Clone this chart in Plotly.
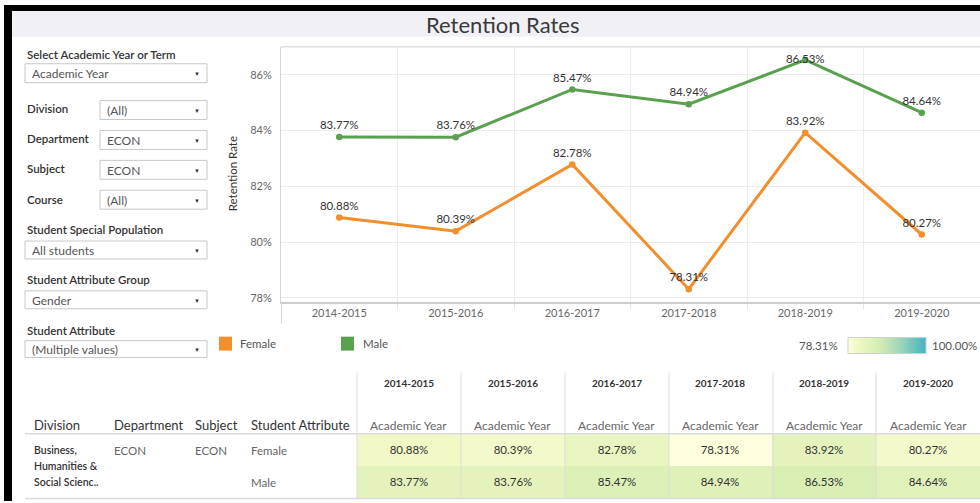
import plotly.graph_objects as go

# ---------------- data ----------------
years = ["2014-2015", "2015-2016", "2016-2017", "2017-2018", "2018-2019", "2019-2020"]
female = [80.88, 80.39, 82.78, 78.31, 83.92, 80.27]
male = [83.77, 83.76, 85.47, 84.94, 86.53, 84.64]
series_names = ["Female", "Male"]
y_tick_vals = [78, 80, 82, 84, 86]
y_tick_text = ["78%", "80%", "82%", "84%", "86%"]
color_max = 100.0

filter_labels = ["Select Academic Year or Term", "Division", "Department", "Subject", "Course",
                 "Student Special Population", "Student Attribute Group", "Student Attribute"]
filter_values = ["Academic Year", "(All)", "ECON", "ECON", "(All)",
                 "All students", "Gender", "(Multiple values)"]

table_headers = ["Division", "Department", "Subject", "Student Attribute"]
division_lines = ["Business,", "Humanities &", "Social Scienc.."]
department = "ECON"
subject = "ECON"
period_label = "Academic Year"

# ---------------- helpers ----------------
W, H = 980, 503
FONT = "Lato, 'Open Sans', sans-serif"
GREEN = "#59a14f"
ORANGE = "#f28e2b"


def X(px):
    return px / W


def Y(py):
    return 1 - py / H


annotations = []
shapes = []


def txt(x, y, s, size=11, color="#333333", anchor="left", weight="normal", xref="paper"):
    annotations.append(dict(
        x=x if xref != "paper" else X(x), y=Y(y), xref=xref, yref="paper", text=s,
        showarrow=False, xanchor=anchor, yanchor="middle",
        font=dict(size=size, color=color, family=FONT, weight=weight)))


def rect(x0, y0, x1, y1, fill, line=None, lw=0):
    shapes.append(dict(type="rect", xref="paper", yref="paper",
                       x0=X(x0), x1=X(x1), y0=Y(y1), y1=Y(y0),
                       fillcolor=fill, line=dict(color=line or fill, width=lw), layer="below"))


def hline(x0, x1, y, color="#dddddd", w=1):
    shapes.append(dict(type="line", xref="paper", yref="paper", x0=X(x0), x1=X(x1),
                       y0=Y(y), y1=Y(y), line=dict(color=color, width=w)))


def vline(x, y0, y1, color="#dddddd", w=1):
    shapes.append(dict(type="line", xref="paper", yref="paper", x0=X(x), x1=X(x),
                       y0=Y(y0), y1=Y(y1), line=dict(color=color, width=w)))


fig = go.Figure()

# ---------------- line chart ----------------
female_pos = ["top center"] * len(female)
male_pos = ["top center"] * len(male)
male_pos[male.index(max(male))] = "middle center"

for name, vals, col, pos in [("Male", male, GREEN, male_pos), ("Female", female, ORANGE, female_pos)]:
    fig.add_trace(go.Scatter(
        x=years, y=vals, name=name, mode="lines+markers+text",
        line=dict(color=col, width=3), marker=dict(color=col, size=6.5),
        text=[f"{v:.2f}%" for v in vals], textposition=pos,
        textfont=dict(size=11.5, color="#333333", family=FONT),
        cliponaxis=False, xaxis="x", yaxis="y", hoverinfo="skip"))

# ---------------- heat table ----------------
all_vals = female + male
zmin = min(all_vals)
fig.add_trace(go.Heatmap(
    z=[female, male], x=years, y=series_names, xaxis="x2", yaxis="y2",
    zmin=zmin, zmax=color_max,
    colorscale=[[0, "#fdfedc"], [0.12, "#f1f8c6"], [0.38, "#d8eeb3"], [0.65, "#a2d8b9"], [1, "#42b4c3"]],
    texttemplate="%{z:.2f}%", textfont=dict(size=11.5, color="#333333", family=FONT),
    hoverinfo="skip",
    colorbar=dict(orientation="h", x=X(886.5), xanchor="center", y=Y(347), yanchor="middle",
                  len=78, lenmode="pixels", thickness=16, thicknessmode="pixels",
                  outlinewidth=1, outlinecolor="#cfcfcf", showticklabels=False, ticks="",
                  xpad=0, ypad=0, borderwidth=0)))

# ---------------- frame ----------------
rect(4, 5, 12, 503, "black")
rect(4, 5, 980, 11, "black")
rect(12, 11, 980, 37, "#f0f0f5")
txt(503, 25, "Retention Rates", size=22, color="#3a3a3a", anchor="center")

# ---------------- filters ----------------
label_y = [55, 109, 139, 169, 200, 230, 281, 332]
box_y = [(64, 83), (101, 120), (131, 150), (161, 180), (191, 210), (242, 260), (292, 310), (342, 359)]
box_x = [(25, 207), (100, 207), (100, 207), (100, 207), (100, 207), (25, 207), (25, 207), (25, 207)]
for lab, val, ly, (by0, by1), (bx0, bx1) in zip(filter_labels, filter_values, label_y, box_y, box_x):
    txt(25, ly, lab, size=11.5, color="#333333", weight=600)
    rect(bx0, by0, bx1, by1, "white", line="#c8c8c8", lw=1)
    txt(bx0 + 5, (by0 + by1) / 2 + 0.5, val, size=12, color="#555555")
    txt(197, (by0 + by1) / 2 + 0.5, "▼", size=6, color="#333333", anchor="center")

# ---------------- chart decorations ----------------
hline(281, 980, 47, color="#dedede", w=1.5)
vline(281.5, 303, 325, color="#d6d6d6", w=1)
annotations.append(dict(x=X(232), y=Y(175), xref="paper", yref="paper", text="Retention Rate",
                        textangle=-90, showarrow=False, xanchor="center", yanchor="middle",
                        font=dict(size=11.5, color="#333333", family=FONT)))

# legend
rect(219, 338, 232, 352, ORANGE)
txt(238, 345, "Female", size=11.5, color="#555555")
rect(341, 338, 354, 352, GREEN)
txt(361, 345, "Male", size=11.5, color="#555555")
txt(840, 347, f"{zmin:.2f}%", size=11.5, color="#555555", anchor="right")
txt(930, 347, f"{color_max:.2f}%", size=11.5, color="#555555", anchor="left")

# ---------------- table text ----------------
col_x = [32, 112, 193, 249]
for h, cx in zip(table_headers, col_x):
    txt(cx, 427, h, size=13, color="#333333")
for yr in years:
    txt(yr, 385, yr, size=10, color="#333333", anchor="center", weight="bold", xref="x2")
    txt(yr, 427, period_label, size=12, color="#666666", anchor="center", xref="x2")
for line_text, ly in zip(division_lines, [452, 468, 484]):
    txt(32, ly, line_text, size=10.5, color="#333333", weight=600)
txt(112, 452, department, size=11.5, color="#666666")
txt(193, 452, subject, size=11.5, color="#666666")
txt(249, 452, series_names[0], size=11.5, color="#666666")
txt(249, 484, series_names[1], size=11.5, color="#666666")

hline(25, 980, 435.5, color="#dadada", w=1.5)
hline(25, 980, 500.5, color="#dadada", w=1.5)
for bx in [357, 461, 565, 669, 773, 876]:
    vline(bx, 374, 501, color="#dcdcdc", w=1)

fig.update_layout(
    width=W, height=H, margin=dict(l=0, r=0, t=0, b=0),
    paper_bgcolor="white", plot_bgcolor="white", showlegend=False,
    font=dict(family=FONT),
    xaxis=dict(domain=[X(281), 1], type="category", categoryorder="array", categoryarray=years,
               range=[-0.5, len(years) - 0.5], tickson="boundaries", ticks="outside", ticklen=5,
               tickcolor="#e3e3e3", showgrid=True, gridcolor="#ececec", showline=True,
               linecolor="#cccccc", linewidth=1.5, tickfont=dict(size=11, color="#666666", family=FONT),
               anchor="y", fixedrange=True, zeroline=False),
    yaxis=dict(domain=[Y(303), Y(47)], range=[77.857, 87.0], tickvals=y_tick_vals, ticktext=y_tick_text,
               showgrid=True, gridcolor="#ececec", zeroline=False, showline=True, linecolor="#d6d6d6",
               tickfont=dict(size=11, color="#666666", family=FONT), ticks="", ticklabelstandoff=6,
               anchor="x", fixedrange=True),
    xaxis2=dict(domain=[X(357), 1], anchor="y2", showticklabels=False, showgrid=False, zeroline=False,
                type="category", categoryarray=years, range=[-0.5, len(years) - 0.5], fixedrange=True),
    yaxis2=dict(domain=[Y(500), Y(436)], anchor="x2", showticklabels=False, showgrid=False,
                zeroline=False, autorange="reversed", fixedrange=True),
    annotations=annotations, shapes=shapes,
)

fig.write_html("out.html", config={"displayModeBar": False},
               post_script="document.body.style.margin='0';document.body.style.overflow='hidden';")
